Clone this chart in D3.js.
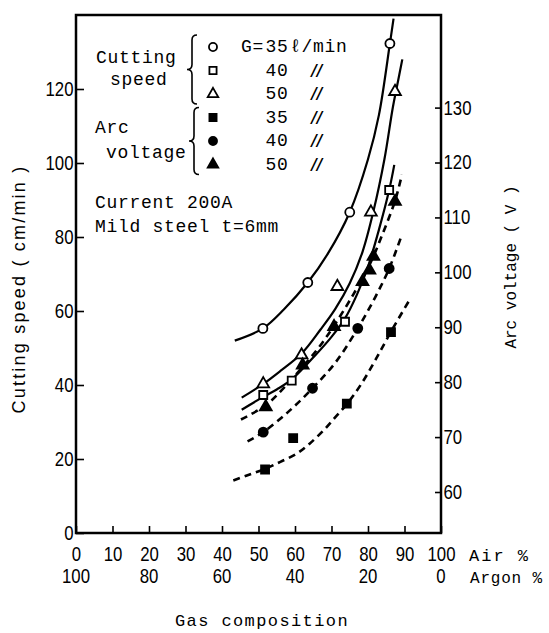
<!DOCTYPE html>
<html>
<head>
<meta charset="utf-8">
<script src="https://cdn.jsdelivr.net/npm/d3@7"></script>
<style>
  body { margin: 0; background: #fff; }
</style>
</head>
<body>
<div id="chart"></div>
<script>
  // Axis ticks
  const airTicks = [0, 10, 20, 30, 40, 50, 60, 70, 80, 90, 100];
  const argonTicks = [100, 80, 60, 40, 20, 0];
  const speedTicks = [0, 20, 40, 60, 80, 100, 120];
  const voltTicks = [60, 70, 80, 90, 100, 110, 120, 130];

  // Measured points [air %, value]; cutting speed in cm/min, arc voltage in V
  const speed35 = [[51.2, 55.3], [63.5, 67.7], [75, 86.7], [86, 132.3]];
  const speed40 = [[51.3, 37.3], [59.1, 41.2], [73.7, 57.1], [85.8, 92.7]];
  const speed50 = [[51.3, 40.3], [61.8, 48.1], [71.6, 66.6], [80.8, 86.7], [87.4, 119.3]];
  const volt35 = [[51.8, 64.1], [59.5, 69.8], [74.2, 76.1], [86.3, 89.1]];
  const volt40 = [[51.3, 70.9], [64.8, 78.9], [77.2, 89.8], [85.8, 100.7]];
  const volt50 = [[52, 75.5], [62.1, 83.1], [70.7, 90.1], [78.5, 98.3], [80.4, 100.4], [81.5, 102.9], [87.4, 112.9]];

  // Hand drawn fitting curves
  const speed35Curve = [[43.5, 52], [51.2, 55.3], [57, 60.5], [63.5, 67.7], [69, 75.5], [75, 86.7], [80, 101], [83, 113], [86, 132.3], [87, 139]];
  const speed50Curve = [[45.4, 36.6], [51.3, 40.3], [56, 43.8], [61.8, 48.5], [67, 55], [71, 60.5], [75, 67.5], [78.5, 76], [81.5, 87], [84.5, 101], [86.8, 115], [88, 121], [89.4, 128]];
  const speed40Curve = [[45.4, 33.3], [51.3, 36.8], [55, 38.8], [59.1, 41.5], [66, 48.5], [70, 53], [73.7, 58], [77, 64.5], [80, 72], [83, 82], [85.8, 92.7], [87.2, 99.5]];
  const volt50Curve = [[45.2, 73.2], [52, 75.8], [57, 79], [62.1, 82.8], [66.5, 86.3], [70.7, 90.3], [76, 96], [80.5, 101.5], [84, 107], [87.4, 113], [89.3, 117.8]];
  const volt40Curve = [[47, 69.2], [51.3, 70.9], [58, 74.5], [64.8, 78.9], [71, 83.5], [77.2, 89.8], [82, 95.5], [85.8, 100.7], [89.1, 106.5]];
  const volt35Curve = [[43.1, 62.1], [47.2, 63.1], [51.8, 64.2], [56, 65.5], [60.5, 67], [64, 68.8], [67.8, 71.2], [71, 73.6], [74.2, 76], [78, 79.5], [82, 84], [86.3, 89.2], [91.4, 95]];

  const legendRows = [
    { kind: "circle", filled: false, label: "35" },
    { kind: "square", filled: false, label: "40" },
    { kind: "triangle", filled: false, label: "50" },
    { kind: "square", filled: true, label: "35" },
    { kind: "circle", filled: true, label: "40" },
    { kind: "triangle", filled: true, label: "50" }
  ];

  const width = 549;
  const height = 633;
  const margin = { top: 15, right: 108, bottom: 100, left: 76 };
  const mono = "'Liberation Mono', 'Courier New', monospace";
  const narrow = "'Liberation Sans Narrow', 'Arial Narrow', 'Liberation Sans', sans-serif";

  const svg = d3.select("#chart")
    .append("svg")
    .attr("width", width)
    .attr("height", height);

  const x = d3.scaleLinear().domain([0, 100]).range([margin.left, width - margin.right]);
  const yL = d3.scaleLinear().domain([0, 140]).range([height - margin.bottom, margin.top]);
  const yR = d3.scaleLinear().domain([60, 130]).range([492, 107.6]);

  const plotLeft = margin.left, plotRight = width - margin.right;
  const plotTop = margin.top, plotBottom = height - margin.bottom;

  // frame
  svg.append("rect")
    .attr("x", plotLeft).attr("y", plotTop)
    .attr("width", plotRight - plotLeft).attr("height", plotBottom - plotTop)
    .attr("fill", "none").attr("stroke", "#000").attr("stroke-width", 2.5);

  function styleAxis(g) {
    g.select(".domain").remove();
    g.selectAll(".tick line").attr("stroke", "#000").attr("stroke-width", 1.6);
    g.selectAll(".tick text")
      .attr("font-family", narrow)
      .attr("font-size", "20px")
      .attr("fill", "#000")
      .attr("transform", "scale(0.84,1)");
  }

  svg.append("g")
    .attr("transform", `translate(${plotLeft},0)`)
    .call(d3.axisLeft(yL).tickValues(speedTicks).tickSize(-8).tickPadding(3))
    .call(styleAxis);

  svg.append("g")
    .attr("transform", `translate(${plotRight},0)`)
    .call(d3.axisRight(yR).tickValues(voltTicks).tickSize(-6).tickPadding(3))
    .call(styleAxis);

  svg.append("g")
    .attr("transform", `translate(0,${plotBottom})`)
    .call(d3.axisBottom(x).tickValues(airTicks).tickSize(-7).tickPadding(14))
    .call(styleAxis);

  // argon scale runs the other way
  svg.append("g")
    .selectAll("text")
    .data(argonTicks)
    .enter()
    .append("text")
    .attr("transform", d => `translate(${x(100 - d)},583) scale(0.84,1)`)
    .attr("text-anchor", "middle")
    .attr("font-family", narrow)
    .attr("font-size", "20px")
    .text(d => d);

  svg.append("text").attr("x", 469).attr("y", 561)
    .attr("font-family", mono).attr("font-size", "17px").attr("letter-spacing", "2px")
    .text("Air %");
  svg.append("text").attr("x", 470).attr("y", 583)
    .attr("font-family", mono).attr("font-size", "16px").attr("letter-spacing", "0.8px")
    .text("Argon %");
  svg.append("text").attr("x", 262).attr("y", 626)
    .attr("text-anchor", "middle")
    .attr("font-family", mono).attr("font-size", "17px").attr("letter-spacing", "1.4px")
    .text("Gas composition");

  // axis titles
  svg.append("text")
    .attr("transform", "translate(25,289) rotate(-90)")
    .attr("text-anchor", "middle")
    .attr("font-family", "'Liberation Sans', sans-serif")
    .attr("font-size", "18px")
    .attr("letter-spacing", "2.2px")
    .text("Cutting speed ( cm/min )");

  svg.append("text")
    .attr("transform", "translate(516,267) rotate(-90)")
    .attr("text-anchor", "middle")
    .attr("font-family", mono)
    .attr("font-size", "16px")
    .text("Arc voltage ( V )");

  // curves
  const line = scale => d3.line()
    .x(d => x(d[0]))
    .y(d => scale(d[1]))
    .curve(d3.curveCatmullRom.alpha(0.5));

  [speed35Curve, speed50Curve, speed40Curve].forEach(c => {
    svg.append("path").attr("d", line(yL)(c))
      .attr("fill", "none").attr("stroke", "#000").attr("stroke-width", 2.2);
  });
  [volt50Curve, volt40Curve, volt35Curve].forEach(c => {
    svg.append("path").attr("d", line(yR)(c))
      .attr("fill", "none").attr("stroke", "#000").attr("stroke-width", 2.6)
      .attr("stroke-dasharray", "7,5");
  });

  // markers
  const symbols = { circle: d3.symbolCircle, square: d3.symbolSquare, triangle: d3.symbolTriangle };
  const sizes = { circle: 64, square: 64, triangle: 60 };

  function markers(data, scale, kind, filled) {
    svg.append("g")
      .selectAll("path")
      .data(data)
      .enter()
      .append("path")
      .attr("transform", d => `translate(${x(d[0])},${scale(d[1])})`)
      .attr("d", d3.symbol().type(symbols[kind]).size(sizes[kind]))
      .attr("fill", filled ? "#000" : "#fff")
      .attr("stroke", "#000")
      .attr("stroke-width", 1.8);
  }

  markers(speed35, yL, "circle", false);
  markers(speed40, yL, "square", false);
  markers(speed50, yL, "triangle", false);
  markers(volt35, yR, "square", true);
  markers(volt40, yR, "circle", true);
  markers(volt50, yR, "triangle", true);

  // legend
  const rowY = i => 47 + i * 23.5;
  const legend = svg.append("g");
  const txt = (xx, yy, s, anchor) => legend.append("text")
    .attr("x", xx).attr("y", yy)
    .attr("dominant-baseline", "central")
    .attr("text-anchor", anchor || "start")
    .attr("font-family", mono)
    .attr("font-size", "18px")
    .attr("letter-spacing", "0.7px")
    .text(s);

  legendRows.forEach((r, i) => {
    legend.append("path")
      .attr("transform", `translate(213,${rowY(i)})`)
      .attr("d", d3.symbol().type(symbols[r.kind]).size(sizes[r.kind] * 0.8))
      .attr("fill", r.filled ? "#000" : "#fff")
      .attr("stroke", "#000")
      .attr("stroke-width", 1.8);
    txt(277, rowY(i), r.label, "middle");
    if (i === 0) {
      txt(264, rowY(i), "G=", "end");
      txt(290, rowY(i), "ℓ/min");
    } else {
      legend.append("text")
        .attr("x", 317).attr("y", rowY(i))
        .attr("dominant-baseline", "central")
        .attr("text-anchor", "middle")
        .attr("font-family", "'DejaVu Sans', sans-serif")
        .attr("font-style", "italic")
        .attr("font-weight", "bold")
        .attr("font-size", "15px")
        .text("//");
    }
  });

  txt(96, 58, "Cutting");
  txt(110, 80, "speed");
  txt(95, 128, "Arc");
  txt(106, 153, "voltage");
  txt(95, 203, "Current 200A");
  txt(95, 227, "Mild steel t=6mm");

  // braces
  function brace(bx, y0, y1) {
    const m = (y0 + y1) / 2, w = 5;
    return `M${bx + w},${y0} Q${bx},${y0} ${bx},${y0 + w} L${bx},${m - w} Q${bx},${m} ${bx - w},${m}` +
      ` Q${bx},${m} ${bx},${m + w} L${bx},${y1 - w} Q${bx},${y1} ${bx + w},${y1}`;
  }
  legend.append("path").attr("d", brace(192, rowY(0) - 12, rowY(2) + 10))
    .attr("fill", "none").attr("stroke", "#000").attr("stroke-width", 1.6);
  legend.append("path").attr("d", brace(194, rowY(3) - 10, rowY(5) + 10))
    .attr("fill", "none").attr("stroke", "#000").attr("stroke-width", 1.6);
</script>
</body>
</html>
